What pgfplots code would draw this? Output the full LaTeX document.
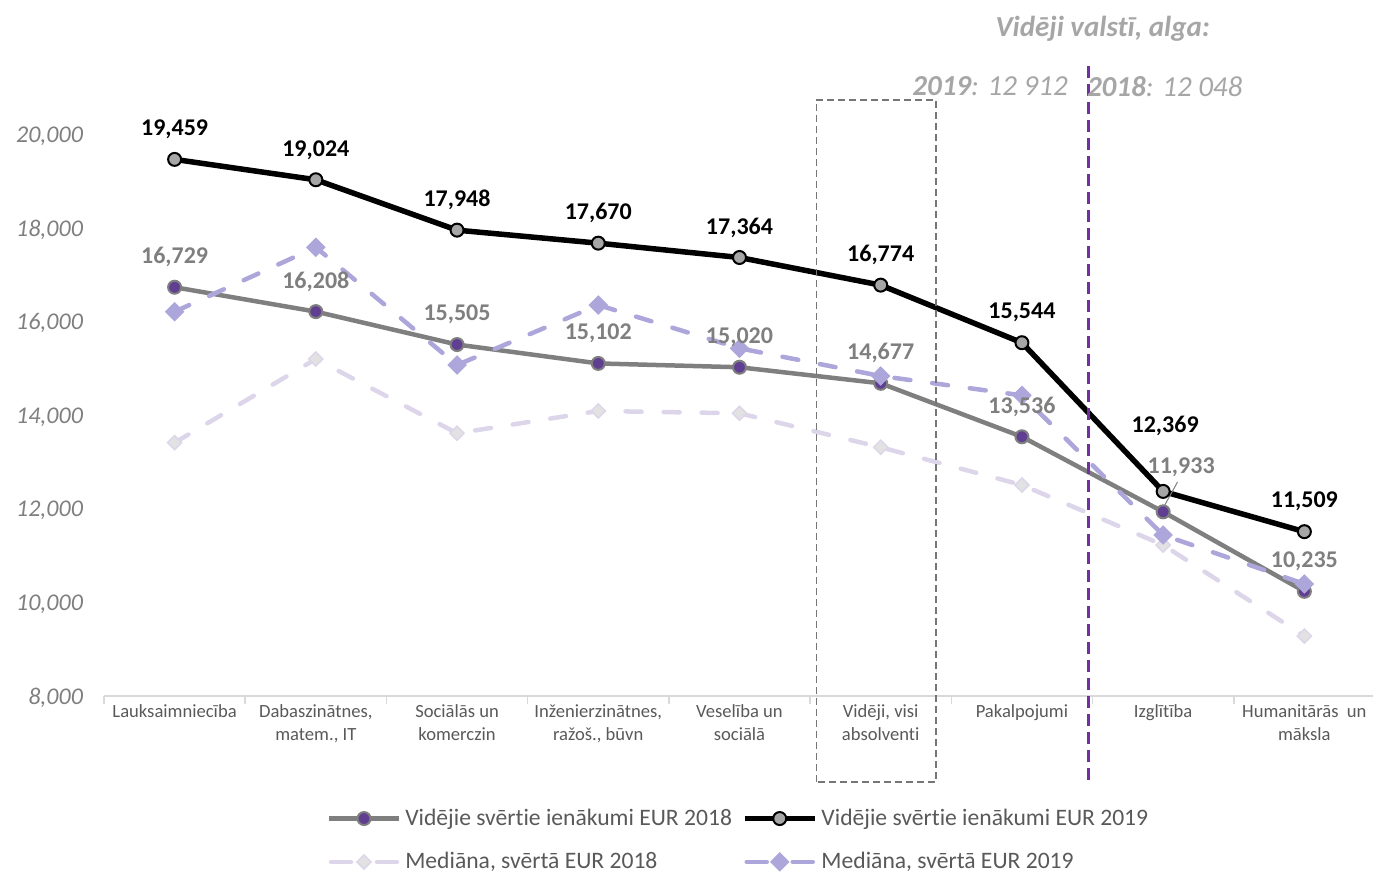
\documentclass[border=0pt]{standalone}
\usepackage{fontspec}
\setmainfont{Carlito}[Ligatures={NoCommon}]
\usepackage{pgfplots}
\pgfplotsset{compat=1.18}
\usepackage{pgfplotstable}

\definecolor{cAline}{RGB}{127,127,127}
\definecolor{cAfill}{RGB}{96,62,145}
\definecolor{cBfill}{RGB}{166,166,166}
\definecolor{cMA}{RGB}{221,214,234}
\definecolor{cMAfill}{RGB}{226,226,226}
\definecolor{cMB}{RGB}{172,166,218}
\definecolor{clbl}{RGB}{89,89,89}
\definecolor{cann}{RGB}{166,166,166}
\definecolor{cvp}{RGB}{112,48,160}
\definecolor{cbox}{RGB}{118,118,118}
\definecolor{caxis}{RGB}{217,217,217}

\pgfplotstableread{
x y lab dy dx
0 16729 16,729 15 0
1 16208 16,208 15 0
2 15505 15,505 15 0
3 15102 15,102 15 0
4 15020 15,020 15 0
5 14677 14,677 15 0
6 13536 13,536 15 0
7 11933 11,933 22.5 9
8 10235 10,235 15 0
}\avgA

\pgfplotstableread{
x y lab dy dx
0 19459 19,459 15 0
1 19024 19,024 15 0
2 17948 17,948 15 0
3 17670 17,670 15 0
4 17364 17,364 15 0
5 16774 16,774 15 0
6 15544 15,544 15 0
7 12369 12,369 32.5 1
8 11509 11,509 15 0
}\avgB

\pgfplotstableread{
x y
0 13409
1 15196
2 13610
3 14086
4 14037
5 13311
6 12506
7 11224
8 9281
}\medA

\pgfplotstableread{
x y
0 16206
1 17581
2 15068
3 16349
4 15425
5 14833
6 14420
7 11438
8 10392
}\medB

\tikzset{
  stAline/.style={color=cAline, line width=2.25pt},
  stAmark/.style={mark=*, mark size=3.25pt, mark options={solid, fill=cAfill, draw=cAline, line width=1pt}},
  stBline/.style={color=black, line width=2.75pt},
  stBmark/.style={mark=*, mark size=3.25pt, mark options={solid, fill=cBfill, draw=black, line width=1pt}},
  stMAline/.style={color=cMA, line width=2.25pt, line cap=round, dash pattern=on 8pt off 11pt},
  stMAmark/.style={mark=square*, mark size=2.5pt, mark options={solid, rotate=45, fill=cMAfill, draw=cMA, line width=0.75pt}},
  stMBline/.style={color=cMB, line width=2.25pt, line cap=round, dash pattern=on 8pt off 11pt},
  stMBmark/.style={mark=square*, mark size=3.2pt, mark options={solid, rotate=45, fill=cMB, draw=cMB, line width=0.5pt}},
}

\begin{document}
\begin{tikzpicture}
\path[use as bounding box] (-52pt,-88.5pt) rectangle (634.5pt,348pt);
\begin{axis}[
  at={(0pt,0pt)}, anchor=south west,
  scale only axis, width=635.5pt, height=327.8pt,
  xmin=-0.5, xmax=8.5, ymin=8000, ymax=22000,
  clip=false,
  axis x line*=bottom, axis y line*=left,
  y axis line style={draw=none},
  x axis line style={draw=caxis, line width=0.75pt},
  major tick length=0pt,
  ytick={8000,10000,...,20000},
  scaled y ticks=false,
  /pgf/number format/.cd, 1000 sep={,}, assume math mode=true, /pgfplots/.cd,
  yticklabel style={font=\itshape\fontsize{12}{14}\selectfont, text=cAline, anchor=east, xshift=-7pt, yshift=-1pt},
  xtick={0,...,8},
  xticklabels={Lauksaimniecība, {Dabaszinātnes,\\matem., IT}, {Sociālās un\\komerczin}, {Inženierzinātnes,\\ražoš., būvn}, {Veselība un\\sociālā}, {Vidēji, visi\\absolventi}, Pakalpojumi, Izglītība, {Humanitārās~ un\\māksla}},
  xticklabel style={align=center, font=\fontsize{9.3}{11.5}\selectfont, text=clbl, yshift=-1pt},
  extra x ticks={-0.5,0.5,...,8.5},
  extra x tick labels={},
  extra x tick style={major tick length=4pt, tick align=outside, tick style={draw=caxis, line width=0.75pt}},
  legend columns=2,
  legend cell align=left,
  legend style={at={(0.5,-0.22)}, anchor=center, draw=none, fill=none,
    font=\fontsize{11.8}{13.5}\selectfont, text=clbl, row sep=8pt,
    /tikz/every even column/.append style={column sep=3pt}},
]

% data series
\addplot[forget plot, stMAline, stMAmark] table[x=x,y=y]{\medA};
\addplot[forget plot, stAline, stAmark] table[x=x,y=y]{\avgA};
\addplot[forget plot, stMBline, stMBmark] table[x=x,y=y]{\medB};
\addplot[forget plot, stBline, stBmark] table[x=x,y=y]{\avgB};

% data labels
\addplot[forget plot, draw=none, nodes near coords, point meta=explicit symbolic,
  visualization depends on={\thisrow{dy} \as \dy},
  visualization depends on={\thisrow{dx} \as \dx},
  every node near coord/.append style={anchor=center, yshift=\dy pt, xshift=\dx pt,
    font=\bfseries\fontsize{12}{14}\selectfont, text=cAline}]
  table[x=x, y=y, meta=lab]{\avgA};
\addplot[forget plot, draw=none, nodes near coords, point meta=explicit symbolic,
  visualization depends on={\thisrow{dy} \as \dy},
  visualization depends on={\thisrow{dx} \as \dx},
  every node near coord/.append style={anchor=center, yshift=\dy pt, xshift=\dx pt,
    font=\bfseries\fontsize{12}{14}\selectfont, text=black}]
  table[x=x, y=y, meta=lab]{\avgB};

% legend
\addlegendimage{legend image code/.code={
  \draw[stAline] (0pt,0pt) -- (35pt,0pt);
  \draw[stAmark] plot coordinates {(17.5pt,0pt)};
}}
\addlegendentry{Vidējie svērtie ienākumi EUR 2018}
\addlegendimage{legend image code/.code={
  \draw[stBline] (0pt,0pt) -- (35pt,0pt);
  \draw[stBmark] plot coordinates {(17.5pt,0pt)};
}}
\addlegendentry{Vidējie svērtie ienākumi EUR 2019}
\addlegendimage{legend image code/.code={
  \draw[stMAline, solid] (1pt,0pt) -- (11pt,0pt);
  \draw[stMAline, solid] (24pt,0pt) -- (34pt,0pt);
  \draw[stMAmark] plot coordinates {(17.5pt,0pt)};
}}
\addlegendentry{Mediāna, svērtā EUR 2018}
\addlegendimage{legend image code/.code={
  \draw[stMBline, solid] (1pt,0pt) -- (11pt,0pt);
  \draw[stMBline, solid] (24pt,0pt) -- (34pt,0pt);
  \draw[stMBmark] plot coordinates {(17.5pt,0pt)};
}}
\addlegendentry{Mediāna, svērtā EUR 2019}

% annotations
\draw[cAline, line width=0.5pt] (axis cs:7.0,12015) -- (axis cs:7.102,12570);
\draw[cbox, line width=0.75pt, dash pattern=on 3.5pt off 2pt] (axis cs:4.544,6164) rectangle (axis cs:5.392,20727);
\draw[cvp, line width=1.2pt, dash pattern=on 6pt off 3pt] (axis cs:6.47,6206) -- (axis cs:6.47,21540);
\node[font=\bfseries\itshape\fontsize{14.5}{17}\selectfont, text=cann] at (axis cs:6.572,22240) {Vidēji valstī, alga:};
\node[font=\itshape\fontsize{14.5}{17}\selectfont, text=cann] at (axis cs:5.774,21020) {\textbf{2019}: 12 912};
\node[font=\itshape\fontsize{14.5}{17}\selectfont, text=cann] at (axis cs:7.011,21020) {\textbf{2018}: 12 048};
\end{axis}
\end{tikzpicture}
\end{document}
